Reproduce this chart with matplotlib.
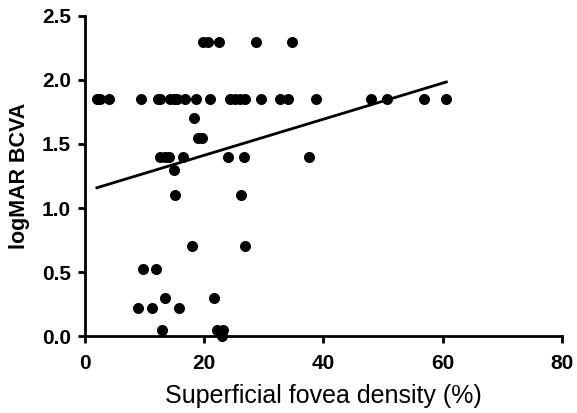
import matplotlib
matplotlib.use("Agg")
import matplotlib.pyplot as plt

plt.rcParams['font.family'] = ['Liberation Sans', 'DejaVu Sans']

# superficial fovea density (%) and logMAR BCVA
density = [2.0, 2.6, 4.0, 9.4, 12.2, 12.6, 14.3, 15.0, 15.4, 16.7, 18.6, 20.9,
           24.4, 25.1, 26.0, 26.8, 29.6, 32.7, 34.1, 38.8, 47.9, 50.7, 56.9, 60.6,
           19.8, 20.7, 22.5, 28.6, 34.7,
           18.3, 19.0, 19.7,
           12.6, 13.4, 14.1, 16.5, 24.0, 26.6, 37.6,
           15.0, 15.1, 26.1,
           17.9, 26.9,
           9.8, 11.9,
           13.4, 21.6,
           8.9, 11.2, 15.8,
           12.9, 22.2, 23.1, 22.9]
bcva = [1.85] * 24 + [2.3] * 5 + [1.7, 1.55, 1.55] + [1.4] * 7 + \
       [1.3, 1.1, 1.1] + [0.7, 0.7] + [0.52, 0.52] + [0.3, 0.3] + \
       [0.22, 0.22, 0.22] + [0.05, 0.05, 0.05, 0.0]

# regression line as drawn
fit_slope = 0.0141
fit_intercept = 1.13
fit_x = [min(density), max(density)]

fig = plt.figure(figsize=(5.77, 4.13), dpi=100)
ax = fig.add_axes([0.1473, 0.1864, 0.8267, 0.7749])

ax.scatter(density, bcva, s=48, color='black', zorder=3, clip_on=False)
ax.plot(fit_x, [fit_intercept + fit_slope * v for v in fit_x], color='black', lw=2)

ax.set_xlim(0, 80)
ax.set_ylim(0, 2.5)
ax.set_xticks([0, 20, 40, 60, 80])
ax.set_yticks([0.0, 0.5, 1.0, 1.5, 2.0, 2.5])
ax.set_yticklabels(['0.0', '0.5', '1.0', '1.5', '2.0', '2.5'])

for side in ['top', 'right']:
    ax.spines[side].set_visible(False)
for side in ['left', 'bottom']:
    ax.spines[side].set_linewidth(2)
ax.tick_params(width=2, length=5, labelsize=15)
ax.tick_params(axis='x', pad=8)
ax.tick_params(axis='y', pad=5)
for lab in ax.get_xticklabels() + ax.get_yticklabels():
    lab.set_fontweight('bold')

ax.set_xlabel('Superficial fovea density (%)', fontsize=18)
ax.set_ylabel('logMAR BCVA', fontsize=15.5, fontweight='bold')
ax.xaxis.set_label_coords(0.5, -0.15)
ax.yaxis.set_label_coords(-0.115, 0.5)

plt.savefig("out.png", dpi=100)
